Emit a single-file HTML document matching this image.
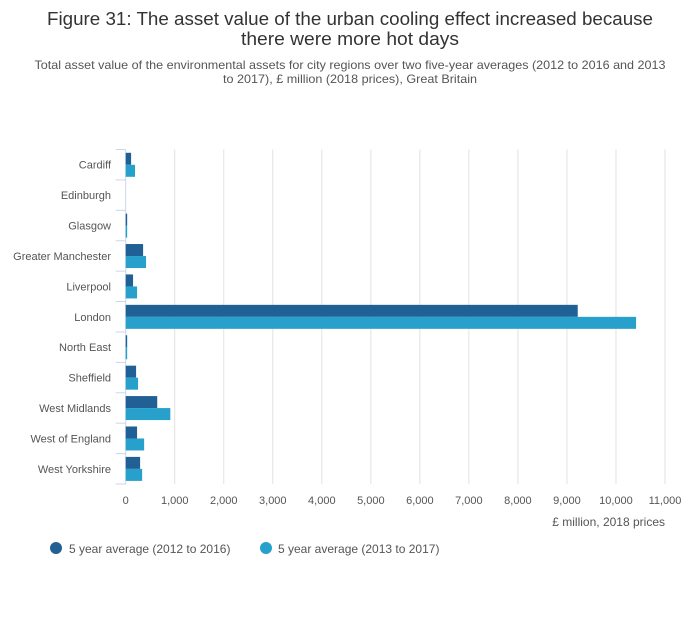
<!DOCTYPE html>
<html><head><meta charset="utf-8"><style>
body{margin:0;background:#fff;font-family:"Liberation Sans",sans-serif;}
svg text{font-family:"Liberation Sans",sans-serif;}
</style></head><body>
<svg id="c" width="700" height="635">
<text x="350" y="25" text-anchor="middle" font-size="18" fill="#333" textLength="606" lengthAdjust="spacingAndGlyphs">Figure 31: The asset value of the urban cooling effect increased because</text>
<text x="350" y="45" text-anchor="middle" font-size="18" fill="#333" textLength="218" lengthAdjust="spacingAndGlyphs">there were more hot days</text>
<text x="350" y="69" text-anchor="middle" font-size="12" fill="#555" textLength="631" lengthAdjust="spacingAndGlyphs">Total asset value of the environmental assets for city regions over two five-year averages (2012 to 2016 and 2013</text>
<text x="350" y="83" text-anchor="middle" font-size="12" fill="#555" textLength="254" lengthAdjust="spacingAndGlyphs">to 2017), £ million (2018 prices), Great Britain</text>
<g id="plot"></g>
<text x="665" y="526" text-anchor="end" font-size="12" fill="#555">£ million, 2018 prices</text>
<g>
<circle cx="56" cy="548" r="6" fill="#206095"/>
<text x="69" y="553" font-size="12" fill="#555">5 year average (2012 to 2016)</text>
<circle cx="266" cy="548" r="6" fill="#27a0cc"/>
<text x="278" y="553" font-size="12" fill="#555">5 year average (2013 to 2017)</text>
</g>
</svg>
<script>
const categories=["Cardiff","Edinburgh","Glasgow","Greater Manchester","Liverpool","London","North East","Sheffield","West Midlands","West of England","West Yorkshire"];
const series1=[110,0,30,355,150,9220,30,212,643,232,294];
const series2=[190,0,30,415,232,10410,30,252,910,376,335];
const xTicks=[0,1000,2000,3000,4000,5000,6000,7000,8000,9000,10000,11000];
const tickLabels=["0","1,000","2,000","3,000","4,000","5,000","6,000","7,000","8,000","9,000","10,000","11,000"];
const NS='http://www.w3.org/2000/svg';
const g=document.getElementById('plot');
const x0=125.7,x1=665,xMax=11000,yTop=149.5,yBot=484;
const bandH=(yBot-yTop)/categories.length;
function xs(v){return x0+(v/xMax)*(x1-x0);}
function mk(t,a){const e=document.createElementNS(NS,t);for(const k in a)e.setAttribute(k,a[k]);g.appendChild(e);return e;}
xTicks.forEach((v,i)=>{
 if(i>0){const l=mk('line',{x1:xs(v),x2:xs(v),y1:yTop,y2:yBot,stroke:'#e2e2e2','stroke-width':1});
 
 }
 const t=mk('text',{x:xs(v),y:504,'text-anchor':'middle','font-size':11,fill:'#555'});t.textContent=tickLabels[i];
 
 
});
const ax=mk('line',{x1:x0,x2:x0,y1:yTop,y2:yBot,stroke:'#ccd6eb','stroke-width':1});


categories.forEach((c,i)=>{
 const yb=yTop+i*bandH;
 const tk=mk('line',{x1:x0-10,x2:x0,y1:yb,y2:yb,stroke:'#ccd6eb'});
 
 
 const t=mk('text',{x:111,y:yb+bandH/2+4,'text-anchor':'end','font-size':11,fill:'#555'});t.textContent=c;
 
 
 const b1=mk('rect',{x:x0,y:yb+3.3,width:Math.max(0,xs(series1[i])-x0),height:12,fill:'#206095'});
 
 
 const b2=mk('rect',{x:x0,y:yb+15.3,width:Math.max(0,xs(series2[i])-x0),height:12,fill:'#27a0cc'});
 
 
});
const tk=mk('line',{x1:x0-10,x2:x0,y1:yBot,y2:yBot,stroke:'#ccd6eb'});


</script>
</body></html>
